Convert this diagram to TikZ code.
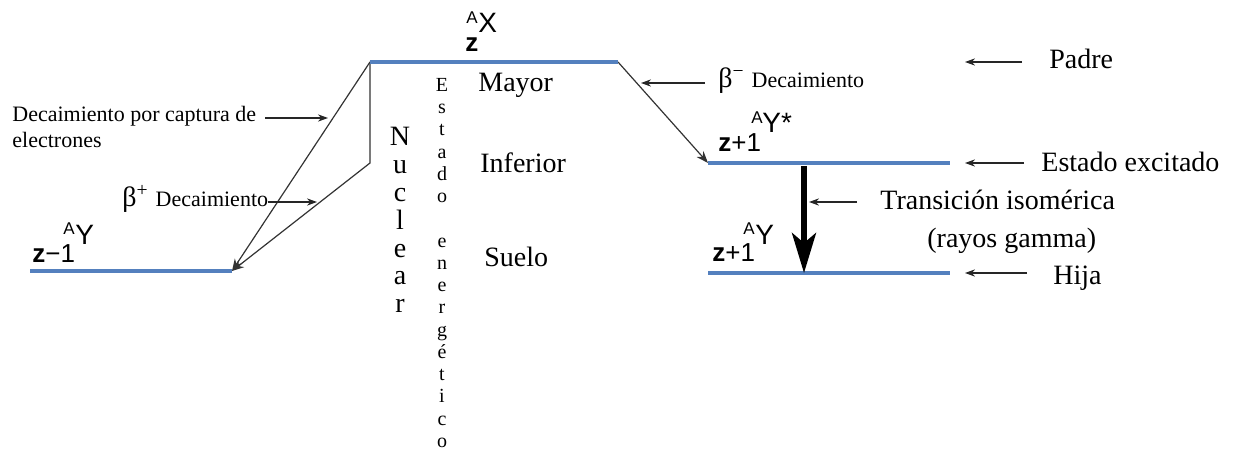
\documentclass[tikz,border=0pt]{standalone}
\usepackage{fontspec}
\setmainfont{Liberation Serif}
\setsansfont{Liberation Sans}
\usetikzlibrary{arrows.meta,positioning}
\definecolor{levelblue}{RGB}{84,128,190}
\tikzset{
	level/.style={draw=levelblue, line width=1.6pt},
	decay/.style={draw=black!80, line width=0.6pt, -{Stealth[length=6pt,width=4.5pt]}},
	pointer/.style={draw=black!85, line width=0.55pt, -{Stealth[length=5pt,width=3.6pt]}},
	gammaline/.style={draw=black, line width=2.6pt, -{Stealth[length=20pt,width=12pt,inset=5pt]}},
	big/.style={inner sep=0pt, anchor=base west, font=\fontsize{14}{16}\selectfont},
	small/.style={inner sep=0pt, anchor=base west, font=\fontsize{11}{13}\selectfont},
	nuc/.style={inner sep=0pt, anchor=base west, font=\sffamily\fontsize{14}{16}\selectfont},
	nucsub/.style={inner sep=0pt, anchor=base west, font=\sffamily\fontsize{13}{15}\selectfont},
	nucsup/.style={inner sep=0pt, anchor=base west, font=\sffamily\fontsize{8.5}{10}\selectfont},
	vletter/.style={inner sep=0pt, anchor=base, font=\fontsize{14}{14}\selectfont},
	vsmall/.style={inner sep=0pt, anchor=base, font=\fontsize{10}{10}\selectfont},
}

\begin{document}
\begin{tikzpicture}[x=0.5pt, y=-0.5pt]
\useasboundingbox (0,0) rectangle (1235,453);

\coordinate (parL) at (370,62); \coordinate (parR) at (618,62);
\coordinate (posL) at (30,271); \coordinate (posR) at (232,271);
\coordinate (excL) at (708,163); \coordinate (excR) at (950,163);
\coordinate (hijL) at (708,273); \coordinate (hijR) at (950,273);
\coordinate (kink) at (370,163);
\coordinate (gTop) at (804,166); \coordinate (gBot) at (804,273);

\draw[decay] (parL) -- (posR);
\draw[decay] (parL) -- (kink) -- (posR);
\draw[decay] (parR) -- (excL);
\draw[level] (parL) -- (parR);
\draw[level] (posL) -- (posR);
\draw[level] (excL) -- (excR);
\draw[level] (hijL) -- (hijR);
\draw[gammaline] (gTop) -- (gBot);

% nuclidos
\node[nucsub] (parZ) at (465,52) {\bfseries z};
\node[nucsup] (parA) at (466,24) {A};
\node[nuc] (parX) at (478,33) {X};
\node[nucsub] (excZ) at (718,152) {{\bfseries z}+1};
\node[nucsup] (excA) at (751,124) {A};
\node[nuc] (excY) at (762,133) {Y*};
\node[nucsub] (hijZ) at (712,262) {{\bfseries z}+1};
\node[nucsup] (hijA) at (743,235) {A};
\node[nuc] (hijY) at (755,245) {Y};
\node[nucsub] (posZ) at (32,263) {{\bfseries z}−1};
\node[nucsup] (posA) at (63,235) {A};
\node[nuc] (posY) at (75,245) {Y};

% textos
\node[small, anchor=north west, align=left, font=\fontsize{11}{13}\selectfont] (ecText) at (12,106)
	{Decaimiento por captura de\\electrones};
\node[big] (bpText) at (122,207) {β\textsuperscript{+} {\fontsize{11}{13}\selectfont Decaimiento}};
\node[big] (bmText) at (718,88) {β\textsuperscript{−} {\fontsize{11}{13}\selectfont Decaimiento}};
\node[big] (mayor) at (478,92) {Mayor};
\node[big] (inferior) at (480,173) {Inferior};
\node[big] (suelo) at (484,267) {Suelo};
\node[big] (padre) at (1049,69) {Padre};
\node[big] (excit) at (1041,172) {Estado excitado};
\node[big] (trans) at (880,210) {Transición isomérica};
\node[big] (rayos) at (927,248) {(rayos gamma)};
\node[big] (hija) at (1053,285) {Hija};

\foreach \c [count=\i] in {N,u,c,l,e,a,r}
	\node[vletter] (nuc\i) at (400,{146+27.8*(\i-1)}) {\c};
\foreach \c [count=\i] in {E,s,t,a,d,o}
	\node[vsmall] (est\i) at (442,{91.5+22.25*(\i-1)}) {\c};
\foreach \c [count=\i] in {e,n,e,r,g,é,t,i,c,o}
	\node[vsmall] (ene\i) at (442,{91.5+22.25*(\i+6)}) {\c};

% flechas
\coordinate (ecT) at (265,118); \coordinate (ecH) at (328,118);
\coordinate (bpT) at (268,202); \coordinate (bpH) at (317,202);
\coordinate (bmT) at (705,83); \coordinate (bmH) at (641,83);
\coordinate (padT) at (1022,62); \coordinate (padH) at (965,62);
\coordinate (excT) at (1024,163); \coordinate (excH) at (965,163);
\coordinate (traT) at (857,202); \coordinate (traH) at (809,202);
\coordinate (hijT) at (1027,273); \coordinate (hijH) at (965,273);
\draw[pointer] (ecT) -- (ecH);
\draw[pointer] (bpT) -- (bpH);
\draw[pointer] (bmT) -- (bmH);
\draw[pointer] (padT) -- (padH);
\draw[pointer] (excT) -- (excH);
\draw[pointer] (traT) -- (traH);
\draw[pointer] (hijT) -- (hijH);
\end{tikzpicture}
\end{document}
